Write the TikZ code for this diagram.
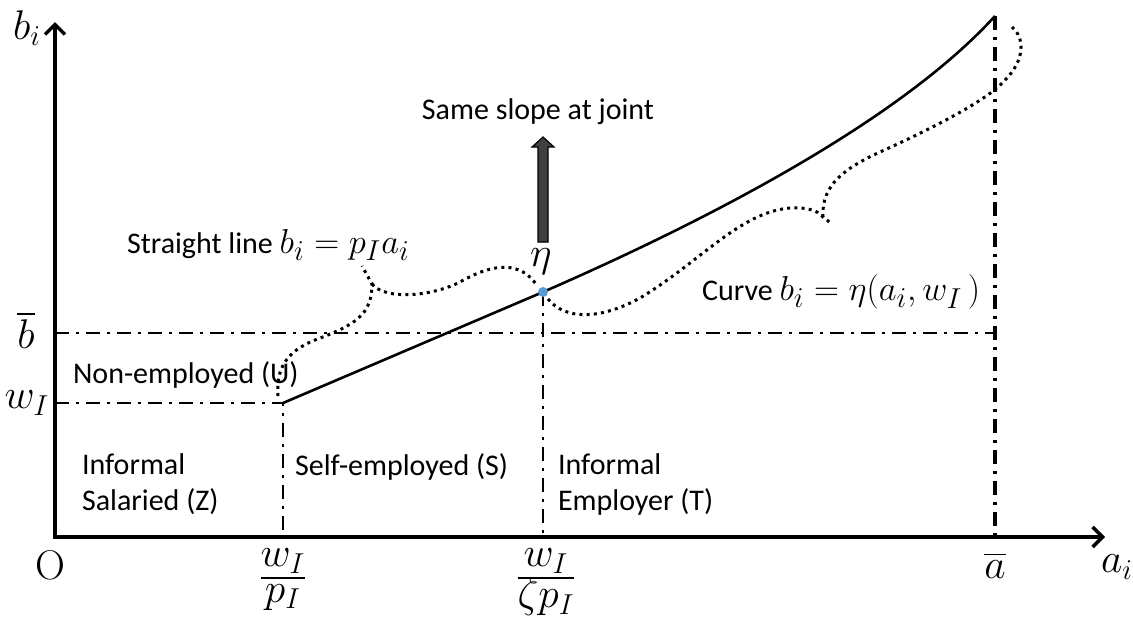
\documentclass[tikz,border=0pt]{standalone}
\usepackage{amsmath}
\usepackage[no-math]{fontspec}
\setmainfont{Carlito}
\usetikzlibrary{arrows.meta}

\definecolor{jointblue}{HTML}{5B9BD5}
\newcommand{\mth}[1]{{\fontsize{19}{22}\selectfont$#1$}}
\newcommand{\fracx}[2]{{\renewcommand{\arraystretch}{0.7}\setlength{\arrayrulewidth}{1pt}%
  $\begin{array}{@{}c@{}}#1\\\hline\rule{0pt}{11.5pt}#2\end{array}$}}

\begin{document}
\begin{tikzpicture}[
  x=0.5pt, y=-0.5pt,
  every node/.style={font=\fontsize{15}{18}\selectfont},
  mathlbl/.style={font=\fontsize{21}{24}\selectfont},
  axis/.style={line width=1.7pt, {Straight Barb[length=5pt,width=10pt]}-{Straight Barb[length=5pt,width=10pt]}},
  guide/.style={line width=1.4pt, dash pattern=on 7pt off 3.5pt on 1.5pt off 3.5pt},
  brace/.style={line width=1.5pt, dash pattern=on 1.5pt off 2.1pt}]
  \useasboundingbox (0,0) rectangle (1133,618);
  % key points
  \coordinate (O)    at (55,537);
  \coordinate (ytop) at (55,22);
  \coordinate (xend) at (1105,537);
  \coordinate (S)    at (283,403);
  \coordinate (J)    at (543,292);
  \coordinate (E)    at (995,16);
  \coordinate (wI)   at (55,403);
  \coordinate (bbar) at (55,333);
  \coordinate (Eb)   at (995,333);
  \coordinate (Sx)   at (283,537);
  \coordinate (Jx)   at (543,537);
  \coordinate (Ex)   at (995,537);

  \draw[guide] (wI) -- (S) -- (Sx);
  \draw[guide] (bbar) -- (Eb);
  \draw[guide] (J) -- (Jx);
  \draw[guide, line width=1.8pt] (E) -- (Ex);
  \draw[axis] (ytop) -- (O) -- (xend);

  \draw[line width=1.3pt] (S) -- (J)
    .. controls (691,227.5) and (895,126) .. (E);
  \fill[jointblue] (J) circle (2.5pt);

  % braces
  \draw[brace] (278,396) .. controls (276,370) and (285,352) .. (315,340)
    .. controls (355,325) and (372,315) .. (372,284) -- (362,266);
  \draw[brace] (372,284) .. controls (385,300) and (430,297) .. (460,282)
    .. controls (495,262) and (520,262) .. (536,284);
  \draw[brace] (548,299) .. controls (565,320) and (600,320) .. (640,298)
    .. controls (700,262) and (740,212) .. (790,208)
    .. controls (805,207) and (818,210) .. (823,217) -- (832,224);
  \draw[brace] (823,217) .. controls (821,185) and (845,168) .. (880,152)
    .. controls (940,125) and (990,98) .. (1005,80)
    .. controls (1025,60) and (1025,38) .. (1012,27);

  \draw[line width=0.6pt, fill=black!75] (538,242) -- (538,147) -- (532,147)
    -- (543,137) -- (554,147) -- (548,147) -- (548,242) -- cycle;

  \node[mathlbl] (lbi)   at (27,28)   {$b_i$};
  \node[mathlbl] (lbbar) at (26,330)  {$\overline{b}$};
  \node[mathlbl] (lwI)   at (27,403)  {$w_I$};
  \node[mathlbl] (lO)    at (50,565)  {$\mathrm{O}$};
  \node[mathlbl, inner sep=0pt, anchor=north] (lS) at (283,543) {\fracx{w_I}{p_I}};
  \node[mathlbl, inner sep=0pt, anchor=north] (lJ) at (546,543) {\fracx{w_I}{\zeta p_I}};
  \node[mathlbl] (labar) at (995,565) {$\overline{a}$};
  \node[mathlbl] (lai)   at (1117,567) {$a_i$};
  \node[mathlbl] (leta)  at (541,262) {$\eta$};

  \node[anchor=west] (U) at (66,375) {Non-employed (U)};
  \node[anchor=west, align=left] (Z) at (75,484) {Informal\\Salaried (Z)};
  \node[anchor=west] (SE) at (288,467) {Self-employed (S)};
  \node[anchor=west, align=left] (T) at (551,484) {Informal\\Employer (T)};
  \node[anchor=west] (lline) at (120,245) {Straight line \mth{b_i=p_Ia_i}};
  \node (lslope) at (538,112) {Same slope at joint};
  \node[anchor=west] (lcurve) at (695,292) {Curve \mth{b_i=\eta(a_i,w_I\,)}};
\end{tikzpicture}
\end{document}
